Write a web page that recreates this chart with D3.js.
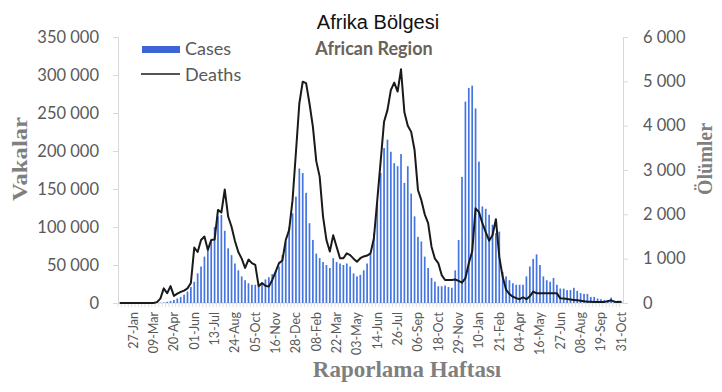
<!DOCTYPE html>
<html>
<head>
<meta charset="utf-8">
<script src="https://cdn.jsdelivr.net/npm/d3@7"></script>
<style>
  body { margin: 0; background: #fff; }
  .tick text { font-family: Lato, "Open Sans", sans-serif; fill: #595959; }
</style>
</head>
<body>
<div id="chart"></div>
<script>
// weekly reports, first week starts 30-Dec-2019
const firstWeek = "2019-12-30";
const tickLabels = ["27-Jan","09-Mar","20-Apr","01-Jun","13-Jul","24-Aug","05-Oct","16-Nov","28-Dec",
  "08-Feb","22-Mar","03-May","14-Jun","26-Jul","06-Sep","18-Oct","29-Nov","10-Jan","21-Feb",
  "04-Apr","16-May","27-Jun","08-Aug","19-Sep","31-Oct"];

const cases = [
  0,0,0,0,0,0,0,0,0,0,
  0,0,300,600,1500,2500,4000,6000,8000,11000,
  15000,21000,28000,39000,48000,61000,72000,81000,100000,114000,
  116000,95000,72000,63000,52000,43000,35000,30000,26000,24000,
  24000,24000,26000,31000,34000,38000,42000,48000,63000,80000,
  100000,118000,140000,177000,171000,145000,105000,83000,65000,59000,
  54000,50000,46000,59000,54000,52000,50000,52000,48000,39000,
  35000,37000,43000,52000,65000,92000,131000,171000,204000,215000,
  199000,184000,180000,196000,158000,180000,144000,114000,87000,81000,
  61000,46000,33000,28000,22000,22000,23000,21000,20000,43000,
  83000,166000,265000,283000,286000,256000,186000,127000,124000,116000,
  103000,92000,94000,41000,35000,30000,26000,24000,24000,24000,
  35000,48000,58000,64000,50000,35000,30000,28000,33000,24000,
  19000,19000,17000,17000,20000,16000,13000,12000,12000,8000,
  8000,6000,5000,4000,4000,7000,3000,3000,2000
];

const deaths = [
  0,0,0,0,0,0,0,0,0,0,
  0,20,100,330,220,380,160,210,250,280,
  330,450,1250,1150,1420,1500,1200,1420,1430,2100,
  2040,2560,1950,1720,1400,1150,1000,790,980,900,
  860,380,450,390,370,520,700,900,960,1420,
  1650,2320,3400,4500,4990,4960,4500,3980,3200,2850,
  1950,1420,1160,1530,1270,1010,1010,1120,1080,1000,
  930,1010,1050,1070,1120,1460,2320,3200,4090,4350,
  4800,4970,4770,5270,4300,4000,3860,3450,2550,2320,
  2000,1800,1270,1000,900,630,520,520,520,530,
  500,460,560,895,1160,2135,2050,1800,1600,1405,
  1530,1890,1040,590,300,200,140,110,85,130,
  85,150,255,220,218,218,218,218,218,218,
  105,100,90,80,70,60,50,40,30,30,
  25,20,20,25,40,60,30,25,30
];

const casesTicks = [0,50000,100000,150000,200000,250000,300000,350000];
const deathsTicks = [0,1000,2000,3000,4000,5000,6000];

const W = 722, H = 392;
const mLeft = 118, mRight = 623, mTop = 37, mBottom = 303;

const fmtWeek = d3.timeFormat("%d-%b");
const start = d3.timeParse("%Y-%m-%d")(firstWeek);
const weeks = cases.map((c,i) => fmtWeek(d3.timeDay.offset(start, 7*i)));

const svg = d3.select("#chart").append("svg").attr("width", W).attr("height", H);

const x = d3.scaleBand().domain(weeks).range([mLeft, mRight]).paddingInner(0.5).paddingOuter(0.25);
const yC = d3.scaleLinear().domain([0, 350000]).range([mBottom, mTop]);
const yD = d3.scaleLinear().domain([0, 6000]).range([mBottom, mTop]);
const spaced = d => d3.format(",")(d).replace(/,/g, " ");

// left axis
const gl = svg.append("g").attr("transform", `translate(${mLeft},0)`)
  .call(d3.axisLeft(yC).tickValues(casesTicks).tickSize(5).tickPadding(14).tickFormat(spaced));
gl.selectAll("line, path").attr("stroke", "#d9d9d9");
gl.selectAll("text").style("font-size", "16.5px");

// right axis
const gr = svg.append("g").attr("transform", `translate(${mRight},0)`)
  .call(d3.axisRight(yD).tickValues(deathsTicks).tickSize(5).tickPadding(15).tickFormat(spaced));
gr.selectAll("line, path").attr("stroke", "#d9d9d9");
gr.selectAll("text").style("font-size", "16.5px");

// category ticks on the baseline
svg.append("g").selectAll("line").data(weeks).join("line")
  .attr("x1", d => x(d) - x.step()*0.25).attr("x2", d => x(d) - x.step()*0.25)
  .attr("y1", mBottom).attr("y2", mBottom + 4).attr("stroke", "#e0e0e0");
svg.append("line").attr("x1", mLeft).attr("x2", mRight).attr("y1", mBottom).attr("y2", mBottom)
  .attr("stroke", "#d9d9d9");

// bottom labels
const gb = svg.append("g").attr("transform", `translate(0,${mBottom + 9})`)
  .call(d3.axisBottom(x).tickValues(tickLabels).tickSize(0).tickPadding(0));
gb.select(".domain").remove();
gb.selectAll("text").style("font-size", "12.5px")
  .attr("text-anchor", "end").attr("transform", "rotate(-90)")
  .attr("x", 0).attr("y", 0).attr("dx", 0).attr("dy", "0.35em");

// bars
svg.append("g").selectAll("rect").data(cases).join("rect")
  .attr("x", (d,i) => x(weeks[i])).attr("width", x.bandwidth())
  .attr("y", d => yC(d)).attr("height", d => mBottom - yC(d))
  .attr("fill", "#4475e0");

// deaths line
const line = d3.line().x((d,i) => x(weeks[i]) + x.bandwidth()/2).y(d => yD(d));
svg.append("path").datum(deaths).attr("d", line)
  .attr("fill", "none").attr("stroke", "#1a1a1a").attr("stroke-width", 2)
  .attr("stroke-linejoin", "round");

// titles
svg.append("text").attr("x", 378).attr("y", 29).attr("text-anchor", "middle")
  .style("font-family", "'Liberation Sans', Arial, sans-serif").style("font-size", "20px")
  .attr("fill", "#111").text("Afrika Bölgesi");
svg.append("text").attr("x", 374).attr("y", 55).attr("text-anchor", "middle")
  .style("font-family", "Lato, sans-serif").style("font-size", "18px").style("font-weight", "bold")
  .attr("fill", "#6b6259").text("African Region");

// legend
svg.append("rect").attr("x", 142).attr("y", 46).attr("width", 38).attr("height", 7).attr("fill", "#3c64d6");
svg.append("line").attr("x1", 141).attr("x2", 180).attr("y1", 74).attr("y2", 74)
  .attr("stroke", "#1a1a1a").attr("stroke-width", 1.5);
svg.append("text").attr("x", 185).attr("y", 55).text("Cases")
  .style("font-family", "Lato, sans-serif").style("font-size", "18px").attr("fill", "#595959");
svg.append("text").attr("x", 185).attr("y", 81).text("Deaths")
  .style("font-family", "Lato, sans-serif").style("font-size", "18px").attr("fill", "#595959");

// axis titles
const serif = "'Liberation Serif', 'Times New Roman', serif";
svg.append("text").attr("transform", "translate(27,159) rotate(-90)").attr("text-anchor", "middle")
  .style("font-family", serif).style("font-weight", "bold").style("font-size", "22px")
  .attr("textLength", 84).attr("lengthAdjust", "spacingAndGlyphs")
  .attr("fill", "#7f7f7f").text("Vakalar");
svg.append("text").attr("transform", "translate(712,159) rotate(-90)").attr("text-anchor", "middle")
  .style("font-family", serif).style("font-weight", "bold").style("font-size", "20px")
  .attr("fill", "#7f7f7f").text("Ölümler");
svg.append("text").attr("x", 407).attr("y", 377).attr("text-anchor", "middle")
  .style("font-family", serif).style("font-weight", "bold").style("font-size", "23px")
  .attr("fill", "#7f7f7f").text("Raporlama Haftası");
</script>
</body>
</html>
